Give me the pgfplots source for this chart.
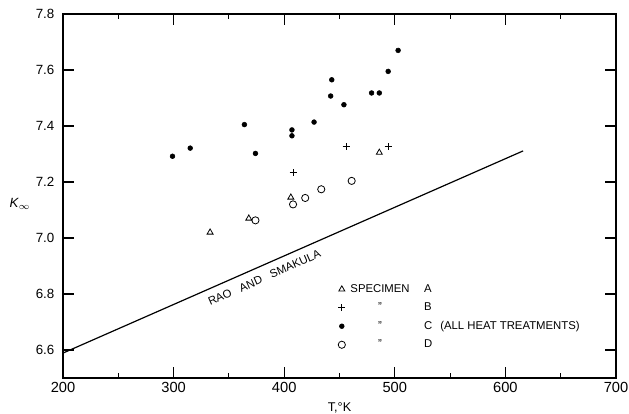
\documentclass[border=0pt]{standalone}
\usepackage{fontspec}
\setmainfont{Liberation Sans}
\usepackage{pgfplots}
\pgfplotsset{compat=1.18}
\begin{document}
\begin{tikzpicture}
\begin{axis}[
  name=ax,
  scale only axis,
  width=414.75pt, height=273pt,
  xmin=200, xmax=700, ymin=6.5, ymax=7.8,
  xtick={200,300,400,500,600,700},
  minor xtick={250,350,450,550,650},
  ytick={6.6,6.8,7.0,7.2,7.4,7.6,7.8},
  tick align=inside,
  major tick length=8.5pt,
  minor tick length=4pt,
  axis line style={line width=0.9pt},
  every tick/.style={line width=0.8pt, black},
  /pgf/number format/assume math mode=true,
  yticklabel style={/pgf/number format/fixed, /pgf/number format/fixed zerofill,
    /pgf/number format/precision=1, font=\fontsize{10}{12}\selectfont, xshift=-3pt},
  xticklabel style={/pgf/number format/1000 sep={}, font=\fontsize{11}{13}\selectfont},
  xlabel={T,°K},
  xlabel style={at={(axis description cs:0.5,0)}, anchor=center, yshift=-22.5pt,
    font=\fontsize{9.5}{11}\selectfont},
  ylabel={\textit{K}$_\infty$},
  ylabel style={rotate=-90, at={(axis description cs:-0.078,0.478)}, anchor=center,
    font=\fontsize{10}{12}\selectfont},
  legend cell align=left,
  legend style={at={(axis cs:448.6,6.845)}, anchor=north west, draw=none, fill=none,
    inner sep=0pt, font=\fontsize{8.5}{10}\selectfont, row sep=2.4pt},
]
% Rao and Smakula relation
\addplot[line width=0.9pt, forget plot] coordinates {(200,6.589) (616,7.311)};
\node[rotate=23.8, font=\fontsize{8.5}{10}\selectfont] at (axis cs:382,6.858)
  {RAO\ \ \ AND\ \ \ SMAKULA};

% Specimen A
\addplot[only marks, mark=triangle, mark size=2.6pt, mark options={line width=0.6pt}]
  coordinates {(333,7.020) (368,7.070) (406,7.145) (486,7.305)};
\addlegendentry{\makebox[48pt][c]{SPECIMEN}\hspace{9pt}A}

% Specimen B
\addplot[only marks, mark=+, mark size=2.6pt, mark options={line width=0.6pt}]
  coordinates {(408,7.233) (456,7.326) (494,7.326)};
\addlegendentry{\makebox[48pt][c]{\symbol{34}}\hspace{9pt}B}

% Specimen C (all heat treatments)
\addplot[only marks, mark=*, mark size=1.8pt]
  coordinates {(299,7.292) (315,7.321) (364,7.405) (374,7.302) (407,7.386)
               (407,7.365) (427,7.414) (443,7.565) (442,7.507) (454,7.476)
               (479,7.518) (486,7.518) (494,7.595) (503,7.670)};
\addlegendentry{\makebox[48pt][c]{\symbol{34}}\hspace{9pt}C\hspace{6pt}(ALL HEAT TREATMENTS)}

% Specimen D
\addplot[only marks, mark=o, mark size=2.7pt, mark options={line width=0.6pt}]
  coordinates {(374,7.063) (408,7.120) (419,7.143) (433.5,7.174) (461,7.204)};
\addlegendentry{\makebox[48pt][c]{\symbol{34}}\hspace{9pt}D}
\end{axis}
\pgfresetboundingbox
\path ([shift={(-47.25pt,-27pt)}]ax.south west) rectangle ([shift={(9.75pt,10.5pt)}]ax.north east);
\end{tikzpicture}
\end{document}
